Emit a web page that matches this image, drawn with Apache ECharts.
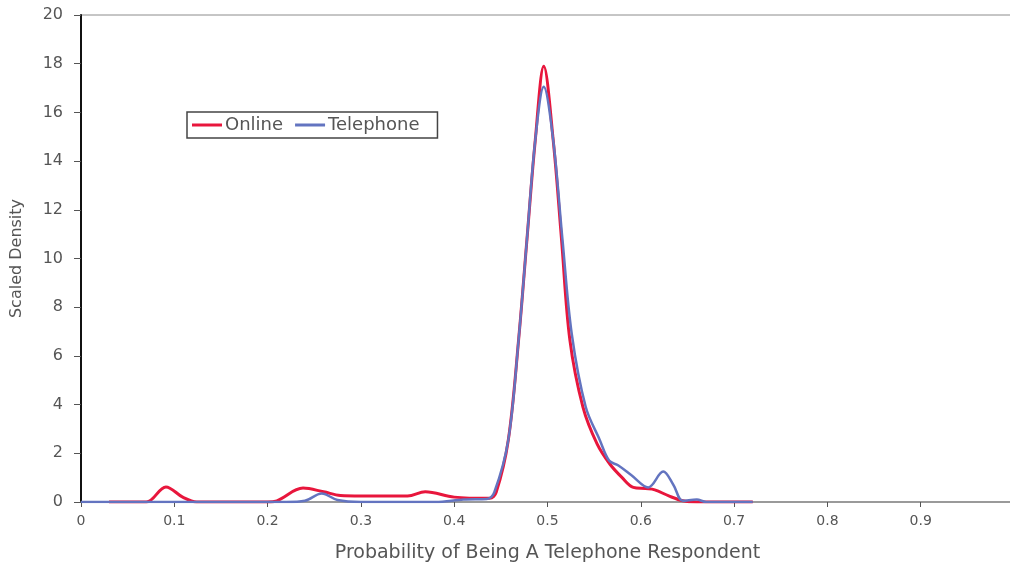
<!DOCTYPE html>
<html>
<head>
<meta charset="utf-8">
<script src="https://cdn.jsdelivr.net/npm/echarts@6/dist/echarts.min.js"></script>
<style>
  html, body { margin: 0; padding: 0; background: #fff; }
  #chart { width: 1010px; height: 576px; }
</style>
</head>
<body>
<div id="chart"></div>
<script>
// Online series (x = probability, y = scaled density)
var onlineX = [0.03, 0.07, 0.091, 0.109, 0.124, 0.16, 0.2, 0.21, 0.238, 0.26, 0.278, 0.3, 0.35, 0.369, 0.4, 0.438, 0.445,
  0.458, 0.469, 0.478, 0.487, 0.496, 0.506, 0.515, 0.524, 0.538, 0.553, 0.567, 0.58, 0.592, 0.605, 0.615, 0.63, 0.645, 0.66, 0.72];
var onlineY = [0, 0, 0.62, 0.2, 0, 0, 0, 0.05, 0.57, 0.42, 0.27, 0.25, 0.25, 0.42, 0.2, 0.15, 0.4,
  2.55, 6.65, 10.8, 14.9, 17.9, 14.9, 10.8, 6.65, 3.9, 2.4, 1.55, 1.0, 0.6, 0.55, 0.5, 0.25, 0.05, 0, 0];

// Telephone series
var telX = [0, 0.22, 0.24, 0.258, 0.275, 0.3, 0.38, 0.41, 0.435, 0.443,
  0.458, 0.469, 0.478, 0.487, 0.496, 0.506, 0.516, 0.526, 0.541, 0.556, 0.566, 0.576, 0.59, 0.608, 0.624, 0.635, 0.645, 0.66, 0.67, 0.72];
var telY = [0, 0, 0.05, 0.35, 0.08, 0, 0, 0.1, 0.12, 0.4,
  2.55, 6.65, 10.8, 14.9, 17.05, 14.9, 10.8, 6.9, 3.9, 2.55, 1.7, 1.5, 1.1, 0.6, 1.25, 0.7, 0.05, 0.1, 0, 0];

var xTicks = [0, 0.1, 0.2, 0.3, 0.4, 0.5, 0.6, 0.7, 0.8, 0.9];

function pairs(xs, ys) {
  var out = [];
  for (var i = 0; i < xs.length; i++) {
    out.push([xs[i], ys[i]]);
  }
  return out;
}

var chart = echarts.init(document.getElementById('chart'));

var option = {
  backgroundColor: '#fff',
  animation: false,
  textStyle: { fontFamily: 'DejaVu Sans, sans-serif' },
  grid: {
    left: 81,
    top: 15,
    width: 933,
    bottom: 74,
    outerBoundsMode: 'none',
    containLabel: false,
    show: true,
    borderColor: '#8c8c8c',
    borderWidth: 1
  },
  legend: {
    data: [
      { name: 'Online', icon: 'rect' },
      { name: 'Telephone', icon: 'rect' }
    ],
    left: 187,
    top: 112,
    orient: 'horizontal',
    borderColor: '#444',
    borderWidth: 1.5,
    padding: [4, 18, 4, 5],
    itemWidth: 30,
    itemHeight: 3,
    itemGap: 12,
    textStyle: { color: '#555', fontSize: 18, padding: [0, 0, 0, -2] }
  },
  xAxis: {
    type: 'value',
    min: 0,
    max: 1,
    interval: 0.1,
    name: 'Probability of Being A Telephone Respondent',
    nameLocation: 'middle',
    nameGap: 42,
    nameTextStyle: { color: '#555', fontSize: 19 },
    axisLine: { lineStyle: { color: '#8c8c8c', width: 1.5 } },
    axisTick: { show: true, inside: false, length: 5, lineStyle: { color: '#555' } },
    axisLabel: {
      color: '#555',
      fontSize: 14,
      margin: 12,
      formatter: function (v) {
        var r = Math.round(v * 10) / 10;
        return xTicks.indexOf(r) >= 0 ? String(r) : '';
      }
    },
    splitLine: { show: false }
  },
  yAxis: {
    type: 'value',
    min: 0,
    max: 20,
    interval: 2,
    name: 'Scaled Density',
    nameLocation: 'middle',
    nameGap: 56,
    nameTextStyle: { color: '#555', fontSize: 16 },
    axisLine: { show: true, lineStyle: { color: '#111', width: 2 } },
    axisTick: { show: true, inside: false, length: 7, lineStyle: { color: '#555' } },
    axisLabel: { color: '#555', fontSize: 16, margin: 18 },
    splitLine: { show: false }
  },
  series: [
    {
      name: 'Online',
      type: 'line',
      data: pairs(onlineX, onlineY),
      smooth: 0.35,
      symbol: 'none',
      lineStyle: { color: '#e8163c', width: 3 },
      itemStyle: { color: '#e8163c' },
      z: 2
    },
    {
      name: 'Telephone',
      type: 'line',
      data: pairs(telX, telY),
      smooth: 0.35,
      symbol: 'none',
      lineStyle: { color: '#6374c0', width: 2.5 },
      itemStyle: { color: '#6374c0' },
      z: 3
    }
  ]
};

chart.setOption(option);
</script>
</body>
</html>
